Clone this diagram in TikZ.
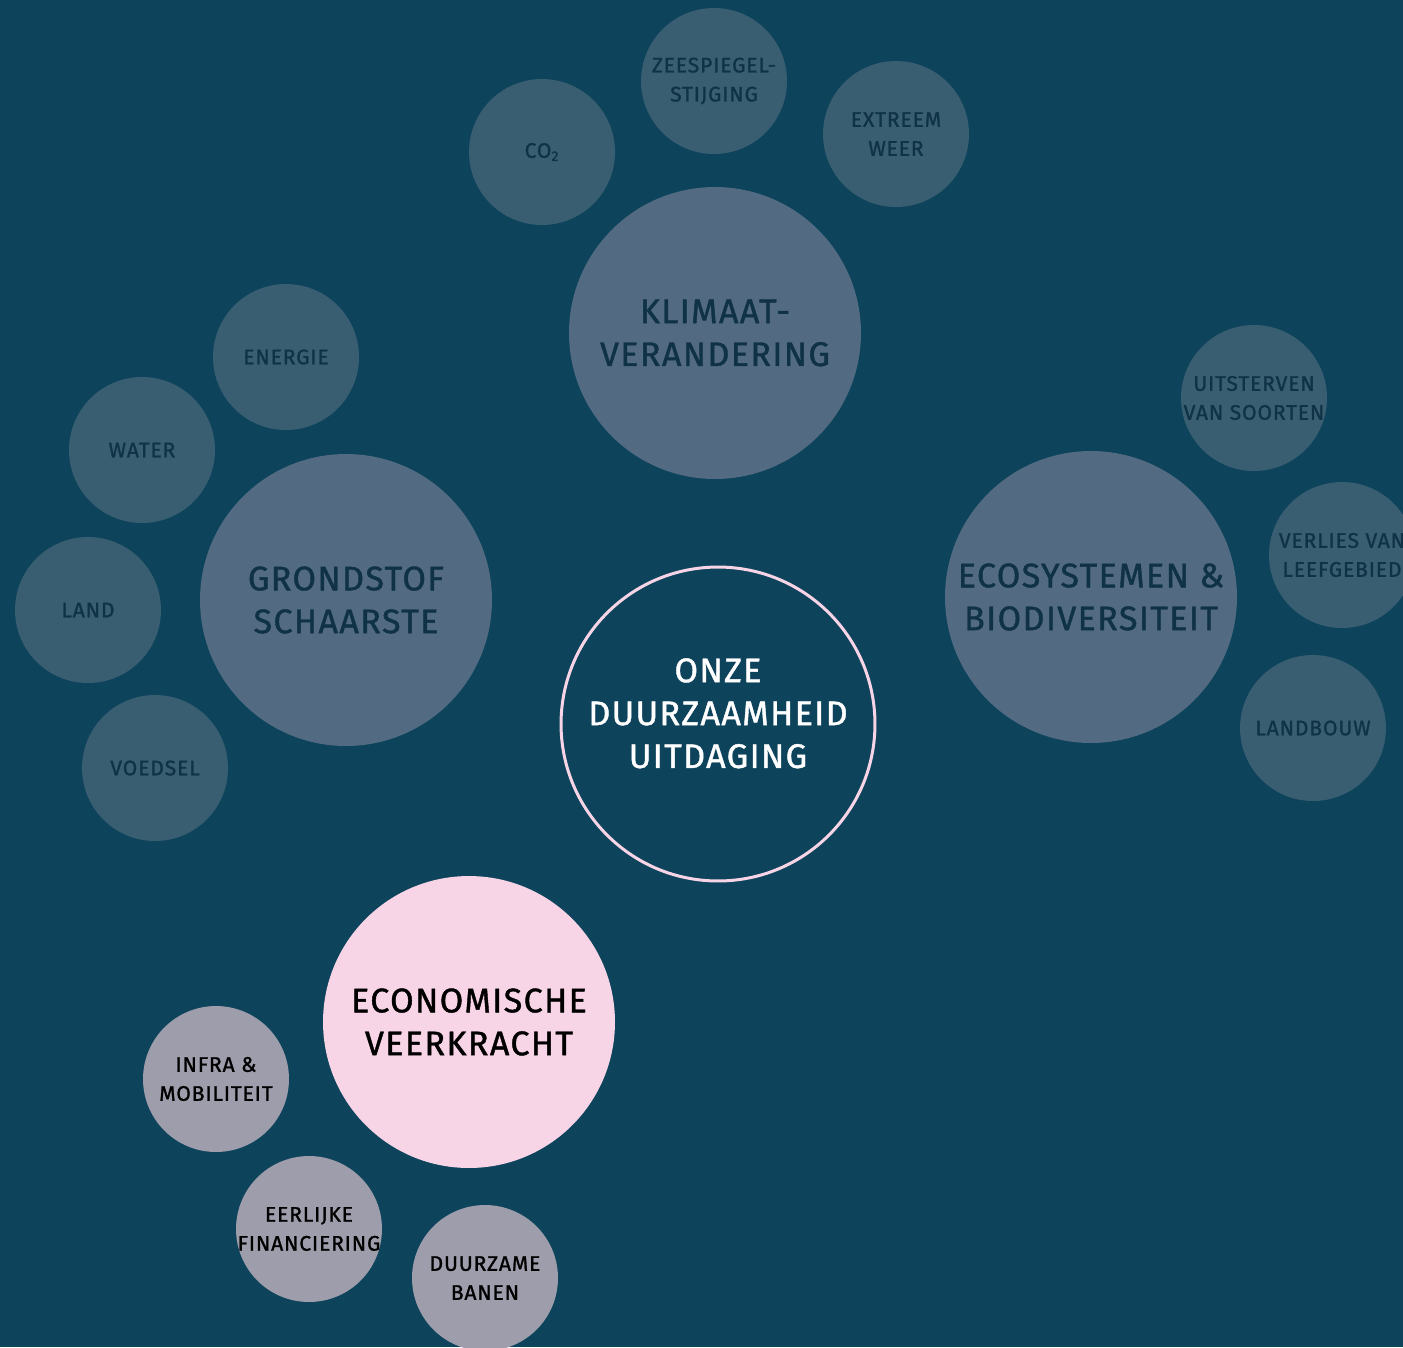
\documentclass[tikz,border=0pt]{standalone}
\usepackage{fontspec}
\setmainfont{Fira Sans}[LetterSpace=4, FakeBold=1.2]
\definecolor{bgblue}{HTML}{0E435C}
\definecolor{smallblue}{HTML}{395E72}
\definecolor{bigblue}{HTML}{526B82}
\definecolor{darktext}{HTML}{103246}
\definecolor{pinkfill}{HTML}{F8D5E6}
\definecolor{greyfill}{HTML}{9E9DAB}

\begin{document}
\begin{tikzpicture}[x=0.02cm, y=-0.02cm,
		bubble/.style={circle, inner sep=-12pt, align=center},
		bigbubble/.style={bubble, minimum size=5.84cm, fill=bigblue, text=darktext,
			font=\fontsize{19.4}{24.4}\selectfont},
		smallbubble/.style={bubble, minimum size=2.92cm, fill=smallblue, text=darktext,
			font=\fontsize{12}{16.5}\selectfont},
		pinkbubble/.style={bigbubble, fill=pinkfill, text=black},
		greybubble/.style={smallbubble, fill=greyfill, text=black}]
			%%%%% START %%%%%
			
			\fill[bgblue] (0, 0) rectangle (1403, 1347);
			\clip (0, 0) rectangle (1403, 1347);
			
			% centre
			\node[bubble, minimum size=6.28cm, draw=pinkfill, line width=0.6mm, text=white,
				font=\fontsize{19.4}{24.4}\selectfont] (uitdaging) at (718, 724)
				{ONZE\\DUURZAAMHEID\\UITDAGING\\[-12pt]};
			
			% klimaat
			\node[bigbubble] (klimaat) at (715, 333) {KLIMAAT-\\VERANDERING};
			\node[smallbubble] (co) at (542, 152) {CO\textsubscript{2}};
			\node[smallbubble] (zeespiegel) at (714, 81) {ZEESPIEGEL-\\STIJGING};
			\node[smallbubble] (weer) at (896, 134) {EXTREEM\\WEER};
			
			% grondstof
			\node[bigbubble] (grondstof) at (346, 600) {GRONDSTOF\\SCHAARSTE};
			\node[smallbubble] (energie) at (286, 357) {ENERGIE};
			\node[smallbubble] (water) at (142, 450) {WATER};
			\node[smallbubble] (land) at (88, 610) {LAND};
			\node[smallbubble] (voedsel) at (155, 768) {VOEDSEL};
			
			% ecosystemen
			\node[bigbubble] (ecosystemen) at (1091, 597) {ECOSYSTEMEN \&\\BIODIVERSITEIT};
			\node[smallbubble] (uitsterven) at (1254, 398) {UITSTERVEN\\VAN SOORTEN};
			\node[smallbubble] (verlies) at (1342, 555) {VERLIES VAN\\LEEFGEBIED};
			\node[smallbubble] (landbouw) at (1313, 728) {LANDBOUW};
			
			% economie
			\node[pinkbubble] (economie) at (469, 1022) {ECONOMISCHE\\VEERKRACHT};
			\node[greybubble] (infra) at (216, 1079) {INFRA \&\\MOBILITEIT};
			\node[greybubble] (financiering) at (309, 1229) {EERLIJKE\\FINANCIERING};
			\node[greybubble] (banen) at (485, 1278) {DUURZAME\\BANEN};
			
			%%%%% END %%%%%
\end{tikzpicture}
\end{document}
